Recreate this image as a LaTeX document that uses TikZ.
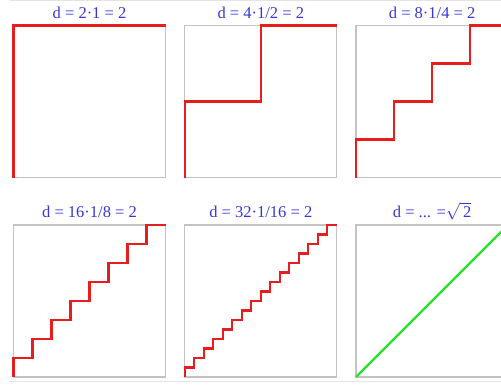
\documentclass[tikz,border=0pt]{standalone}
\usepackage{fontspec}
\setmainfont{Liberation Serif}
\definecolor{ttlblue}{RGB}{55,55,215}
\definecolor{stairred}{RGB}{232,30,30}
\definecolor{diaggreen}{RGB}{40,225,40}
\definecolor{boxgray}{RGB}{195,195,195}
\definecolor{faintgray}{RGB}{228,228,228}
\tikzset{
  panelbox/.style={draw=boxgray, line width=1.3pt, minimum size=152pt, inner sep=0pt, outer sep=0pt},
  ttl/.style={text=ttlblue, font=\fontsize{16.5}{18}\selectfont, anchor=base, inner sep=0pt},
  stairs/.style={draw=stairred, line width=2.3pt, line join=miter},
  diag/.style={draw=diaggreen, line width=2.3pt},
  faint/.style={draw=faintgray, line width=1pt}
}
\begin{document}
\begin{tikzpicture}[x=1pt,y=-1pt]
\useasboundingbox (0,0) rectangle (501,387);
\clip (0,0) rectangle (501,387);
% faint frame lines
\coordinate (ftl) at (10,1);
\coordinate (ftr) at (501,1);
\coordinate (fbl) at (10,382);
\coordinate (fbr) at (501,382);
\draw[faint] (ftl) -- (ftr);
\draw[faint] (fbl) -- (fbr);
% boxes
\node[panelbox] (b1) at (89.5,101.6) {};
\node[panelbox] (b2) at (260.8,101.6) {};
\node[panelbox] (b3) at (432.1,101.6) {};
\node[panelbox] (b4) at (89.5,301) {};
\node[panelbox] (b5) at (260.8,301) {};
\node[panelbox] (b6) at (432.1,301) {};
% titles
\node[ttl] (t1) at (89.5,18.3) {d = 2·1 = 2};
\node[ttl] (t2) at (260.8,18.3) {d = 4·1/2 = 2};
\node[ttl] (t3) at (432.1,18.3) {d = 8·1/4 = 2};
\node[ttl] (t4) at (89.5,217.3) {d = 16·1/8 = 2};
\node[ttl] (t5) at (260.8,217.3) {d = 32·1/16 = 2};
\node[ttl] (t6) at (432.1,217.3) {d = ... =$\sqrt{\mbox{\,2}}$};
% staircases
\draw[stairs] (b1.south west) \foreach \i in {1} { -- ++(0,-152) -- ++(152,0) };
\draw[stairs] (b2.south west) \foreach \i in {1,...,2} { -- ++(0,-76) -- ++(76,0) };
\draw[stairs] (b3.south west) \foreach \i in {1,...,4} { -- ++(0,-38) -- ++(38,0) };
\draw[stairs] (b4.south west) \foreach \i in {1,...,8} { -- ++(0,-19) -- ++(19,0) };
\draw[stairs] (b5.south west) \foreach \i in {1,...,16} { -- ++(0,-9.5) -- ++(9.5,0) };
\draw[diag] (b6.south west) -- (b6.north east);
\end{tikzpicture}
\end{document}
